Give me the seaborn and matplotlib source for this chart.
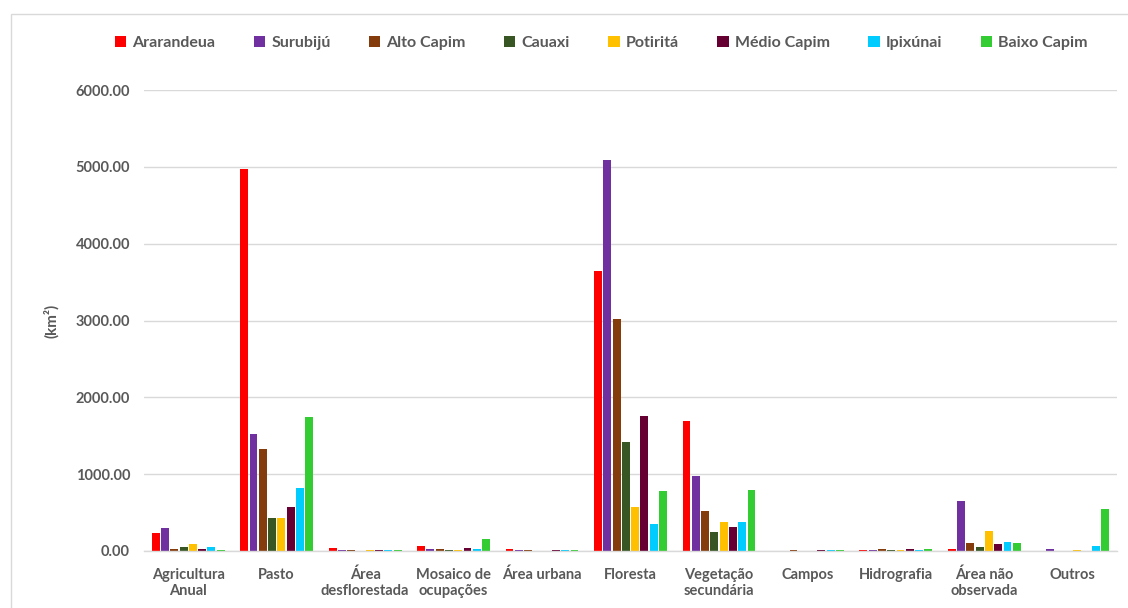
import matplotlib
matplotlib.use("Agg")
import matplotlib.pyplot as plt
from matplotlib.patches import Patch, Rectangle
from matplotlib.ticker import FuncFormatter
import seaborn as sns
import pandas as pd

categories = ["Agricultura\nAnual", "Pasto", "Área\ndesflorestada", "Mosaico de\nocupações",
              "Área urbana", "Floresta", "Vegetação\nsecundária", "Campos", "Hidrografia",
              "Área não\nobservada", "Outros"]

basins = ["Ararandeua", "Surubijú", "Alto Capim", "Cauaxi", "Potiritá",
          "Médio Capim", "Ipixúnai", "Baixo Capim"]

ararandeua = [234, 4970, 35, 61, 30, 3650, 1693, 0, 17, 30, 0]
surubiju = [300, 1523, 17, 30, 17, 5095, 980, 0, 17, 647, 30]
alto_capim = [30, 1332, 17, 30, 17, 3021, 525, 15, 30, 109, 0]
cauaxi = [52, 430, 0, 17, 0, 1415, 243, 0, 17, 56, 0]
potirita = [95, 434, 17, 17, 0, 577, 378, 0, 17, 265, 17]
medio_capim = [30, 569, 17, 43, 17, 1758, 312, 15, 30, 87, 0]
ipixunai = [48, 820, 17, 22, 17, 352, 378, 12, 17, 117, 69]
baixo_capim = [17, 1740, 17, 156, 17, 785, 794, 12, 20, 109, 551]

series = [ararandeua, surubiju, alto_capim, cauaxi, potirita, medio_capim, ipixunai, baixo_capim]
colors = ["#FF0000", "#7030A0", "#843C0C", "#375623", "#FFC000", "#660033", "#00CCFF", "#33CC33"]

rows = []
for name, vals in zip(basins, series):
    for cat, v in zip(categories, vals):
        rows.append({"categoria": cat, "bacia": name, "area": v})
df = pd.DataFrame(rows)

sns.set_theme(style="white")
plt.rcParams["font.family"] = ["Lato", "DejaVu Sans"]

fig = plt.figure(figsize=(11.28, 6.08), dpi=100)
fig.patch.set_facecolor("white")
ax = fig.add_axes([144 / 1128, 1 - 551 / 608, (1117 - 144) / 1128, (551 - 90) / 608])

sns.barplot(data=df, x="categoria", y="area", hue="bacia", order=categories,
            hue_order=basins, palette=colors, width=0.84, gap=0.15,
            linewidth=0, saturation=1, ax=ax, legend=False)

ax.set_ylim(0, 6000)
ax.set_yticks(range(0, 6001, 1000))
ax.yaxis.set_major_formatter(FuncFormatter(lambda v, p: f"{v:.2f}"))
ax.grid(axis="y", color="#D9D9D9", linewidth=1)
ax.set_axisbelow(True)
for s in ["top", "right", "left"]:
    ax.spines[s].set_visible(False)
ax.spines["bottom"].set_color("#D9D9D9")
ax.spines["bottom"].set_linewidth(1)
ax.tick_params(axis="y", length=0, pad=10, labelsize=10.5, labelcolor="#595959")
ax.tick_params(axis="x", length=0, pad=12, labelsize=10.5, labelcolor="#595959")
for lbl in ax.get_yticklabels() + ax.get_xticklabels():
    lbl.set_fontweight("bold")
ax.set_xlabel("")
ax.set_ylabel("(km²)", fontsize=11, fontweight="bold", color="#595959", labelpad=12)

handles = [Patch(facecolor=c, edgecolor="none", label=b) for b, c in zip(basins, colors)]
leg = fig.legend(handles=handles, loc="center", bbox_to_anchor=(0.533, 1 - 43 / 608),
                 ncol=8, frameon=False, handlelength=0.7, handleheight=0.7,
                 handletextpad=0.4, columnspacing=2.4,
                 prop={"size": 11.5, "weight": "bold"})
for t in leg.get_texts():
    t.set_color("#595959")

# outer chart frame
fig.patches.append(Rectangle((11 / 1128, -0.05), 1.2, 1 - 14 / 608 + 0.05,
                             transform=fig.transFigure, fill=False,
                             edgecolor="#D9D9D9", linewidth=1))

fig.savefig("out.png", dpi=100)
